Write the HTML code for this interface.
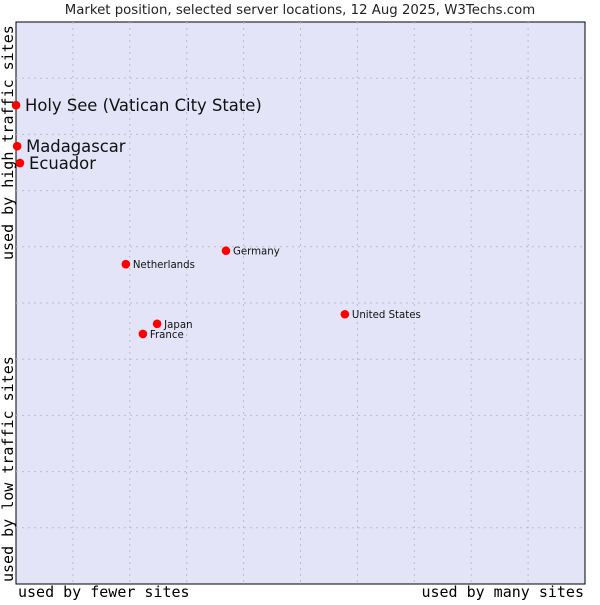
<!DOCTYPE html>
<html><head><meta charset="utf-8"><style>
body{margin:0;background:#fff;}
svg text{font-family:"DejaVu Sans","Liberation Sans",sans-serif;}
.mono{font-family:"DejaVu Sans Mono","Liberation Mono",monospace;}
</style></head><body>
<svg id="c" width="600" height="600">
<text x="300" y="14" font-size="13.3" text-anchor="middle" fill="#222">Market position, selected server locations, 12 Aug 2025, W3Techs.com</text>
<rect x="16" y="22" width="569" height="562" fill="#e4e4f8" stroke="#000" stroke-width="1"/>
<g id="grid"></g>
<g id="pts"></g>
<text class="mono" x="18" y="597" font-size="15" fill="#000">used by fewer sites</text>
<text class="mono" x="584" y="597" font-size="15" fill="#000" text-anchor="end">used by many sites</text>
<text class="mono" transform="translate(13,260) rotate(-90)" font-size="15" fill="#000">used by high traffic sites</text>
<text class="mono" transform="translate(13,582) rotate(-90)" font-size="15" fill="#000">used by low traffic sites</text>
</svg>
<script>
const names=["Holy See (Vatican City State)","Madagascar","Ecuador","Netherlands","Germany","United States","Japan","France"];
const xVals=[0,0.2,0.7,19.3,36.9,57.8,24.8,22.3];
const yVals=[85.2,77.9,74.9,56.9,59.3,48.0,46.3,44.5];
const bigLabel=[true,true,true,false,false,false,false,false];
const L=16,T=22,W=569,H=562;
const sx=v=>L+v/100*W, sy=v=>T+H-v/100*H;
const ns="http://www.w3.org/2000/svg";
const g=document.getElementById('grid');
for(let i=1;i<10;i++){
  const a=document.createElementNS(ns,'line');
  a.setAttribute('x1',sx(i*10));a.setAttribute('x2',sx(i*10));a.setAttribute('y1',T);a.setAttribute('y2',T+H);
  a.setAttribute('stroke','#bdbdc8');a.setAttribute('stroke-dasharray','2,4');
  
  
  g.appendChild(a);
  const b=document.createElementNS(ns,'line');
  b.setAttribute('y1',sy(i*10));b.setAttribute('y2',sy(i*10));b.setAttribute('x1',L);b.setAttribute('x2',L+W);
  b.setAttribute('stroke','#bdbdc8');b.setAttribute('stroke-dasharray','2,4');
  
  
  g.appendChild(b);
}
const p=document.getElementById('pts');
names.forEach((n,i)=>{
  const x=sx(xVals[i]),y=sy(yVals[i]);
  const d=document.createElementNS(ns,'circle');
  d.setAttribute('cx',x);d.setAttribute('cy',y);d.setAttribute('r',4.3);
  d.setAttribute('fill','#f00');
  
  
  p.appendChild(d);
  const t=document.createElementNS(ns,'text');
  t.setAttribute('x',x+(bigLabel[i]?9:7));t.setAttribute('y',y+(bigLabel[i]?6:4));
  t.setAttribute('font-size',bigLabel[i]?16.4:10.2);t.setAttribute('fill','#111');
  t.textContent=n;
  
  
  p.appendChild(t);
});
</script>
</body></html>
